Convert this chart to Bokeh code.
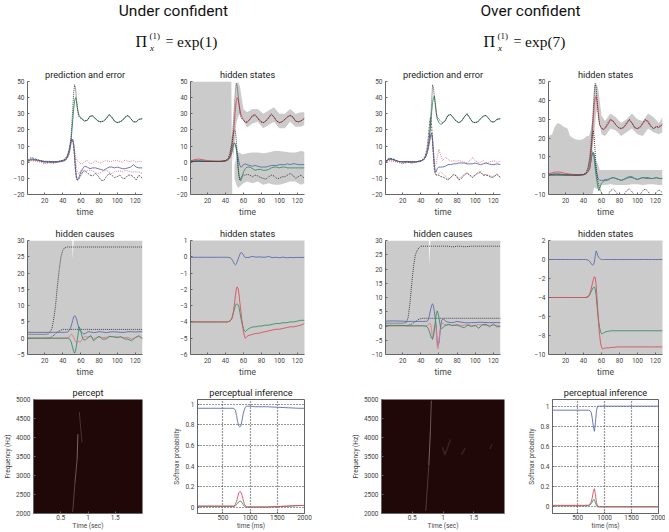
from bokeh.plotting import figure
from bokeh.layouts import column, row
from bokeh.models import Label, Range1d, FixedTicker
from bokeh.embed import file_html
from bokeh.resources import INLINE

NARROW = "Roboto"
SERIF = "Liberation Serif"
BLUE, GREEN, RED, PINK, BLACK, GRAY = "#5a6cb0", "#3a8f66", "#d9505f", "#e2788a", "#333333", "#cbcbcb"
SOFTBLACK = "#555555"
DARK = "#200708"

HEADINGS = ["Under confident", "Over confident"]
CONDITIONS = ["exp(1)", "exp(7)"]
TIME_TICKS = [20, 40, 60, 80, 100, 120]

T = [1, 5, 10, 15, 20, 25, 30, 35, 40, 43, 45, 47, 48, 49, 50, 51, 52, 53, 54, 55, 56, 57, 58, 60, 62,
     64, 67, 70, 73, 76, 79, 82, 85, 88, 91, 94, 97, 100, 103, 106, 109, 112, 115, 118, 121, 124, 128]

A_black_top = [.5, 1.5, 1, .8, .5, .5, .3, .5, 1, 2.5, 4, 7, 10, 15, 24, 33, 43, 48, 46, 40, 34, 30, 28, 27, 26.5,
               25.5, 26, 28.5, 29, 27, 25.5, 25, 25.5, 27, 29.5, 28, 25.5, 24.5, 25, 26, 28, 29, 27, 25, 25, 26.5, 27]
A_green = [.5, 1.5, 1.5, 1, .5, .5, .3, .5, 1, 1.5, 3, 6, 9, 13, 19, 26, 33, 38, 40, 38, 34, 31, 29, 27.5, 26.5,
           25.5, 26, 28.5, 28.5, 27, 25.5, 25, 25.5, 27, 29.5, 28, 25.5, 24.5, 25, 26, 28, 29, 27, 25, 25, 26.5, 27]
A_blue = [.8, 2, 1.5, .8, .3, .3, .2, .3, .8, 1.5, 3, 6, 9, 12, 14, 14, 11, 4, -4, -9, -11, -10.5, -9, -6, -4,
          -2.5, -3, -4, -3.5, -3.5, -4, -4.5, -5, -4, -3, -3, -3.5, -3, -3.5, -4, -4, -3.5, -3, -1.5, -3, -3.5, -3.5]
A_red_top = [.5, 1.5, 1, .5, -.5, 0, -.5, 0, .5, 1, 2.5, 5, 8, 12, 14, 14, 11, 7, 4, 2, 1, .5, 0, -1, -1,
             .5, 1, -1, -.5, 1, 0, -.5, .5, 1, .5, .5, 1, 1, .5, 0, 1.5, .5, .5, 1, 0, .5, .5]
A_red_low = [.2, 1, .5, 0, -1, -.5, -.5, 0, .5, 1, 2.5, 5, 8, 12, 14, 14, 11, 6, 1, -3, -6, -7, -7, -5, -5.5,
             -6, -5, -5, -5.5, -6.5, -7, -6.5, -5.5, -5, -6, -7, -6, -5.5, -5.5, -6, -5, -5.5, -6, -6, -6, -6, -7]
A_black_low = [1, 3, 2, 1, 0, 0, -.3, .3, .8, 2, 4, 8, 11, 14, 14, 13, 10, 3, -5, -10, -11, -11, -10, -8, -6,
               -5, -6.5, -8, -8.5, -7, -8.5, -11, -11.5, -9, -7, -8, -9.5, -9, -8, -10, -10, -8, -8, -9, -11, -8, -10]

B_red = [.8, 1.5, 2, 1.5, 1, .8, .6, .6, .8, 1.5, 3, 8, 12, 18, 25, 33, 38, 40, 39, 36, 33, 30, 28.5, 26, 24.5,
         24.5, 26.5, 28.5, 29, 27.5, 25.5, 24.5, 25.5, 27.5, 29.5, 28, 25.5, 24.5, 25, 26.5, 28, 29, 28, 25.5, 25, 25.5, 27]
B_black_top = [.5, .5, .5, .5, .5, .5, .5, .5, 1, 2.5, 6, 12, 18, 26, 35, 44, 49, 47, 42, 36, 31, 28, 27, 26, 25,
               25, 26.5, 29, 29.5, 27, 25, 24.5, 25.5, 27.5, 30, 28, 25.5, 24.5, 25, 26.5, 28, 29, 28, 25.5, 25, 25.5, 27.5]
B_black_low = [.5, .5, .5, .5, .5, .5, .5, .5, .8, 2, 4, 10, 15, 19, 20, 19, 14, 6, -3, -9, -11, -10, -9, -8, -8,
               -7.5, -8, -9, -8, -8.5, -9.5, -10, -10.5, -9, -8, -8.5, -10, -10, -9, -9, -8, -7, -8, -10, -9, -8, -10]
B_blue = [.8, .8, 1, .8, .6, .5, .5, .5, .8, 1.5, 3, 6, 9, 11, 12, 11, 9, 6, 3, 0, -2, -3, -3, -1.5, -1,
          -1.5, -2, -2.5, -2, -2.5, -3, -3, -3, -2.5, -2, -2, -2, -1.5, -1.5, -1.5, -1, -1.5, -1, -1, -1.5, -1.5, -1.5]
B_green = [.6, .6, .8, .6, .5, .5, .5, .5, .8, 1.5, 3, 6, 9, 11, 12, 11, 8, 3, -3, -8, -11, -11.5, -10, -6, -4,
           -3, -3, -4, -5, -4.5, -4.5, -5, -5, -4.5, -3.5, -3, -3, -3.5, -3, -3, -3.5, -3.5, -3.5, -3.5, -3.5, -3.5, -3.5]
B_wall_t = [1, 46.5, 47.5]
B_wall_up = [50, 50, -20]
B_wall_low = [-20, -20, -20]
B1_t = [48, 50, 52, 54, 56, 58, 60, 64, 70, 76, 82, 88, 94, 100, 106, 112, 118, 124, 128]
B1_up = [14, 30, 48, 50, 47, 40, 33, 31, 33, 33, 30, 32, 34, 30, 30, 33, 30, 31, 31]
B1_low = [0, 10, 24, 28, 30, 28, 26, 21.5, 24, 25, 21, 23, 25, 21, 21, 25, 22, 22, 23]
B2_t = [50, 52, 54, 56, 58, 60, 64, 70, 76, 82, 88, 94, 100, 106, 112, 118, 124, 128]
B2_up = [-2, 3, 6, 6, 5, 5, 5.5, 6, 6, 5.5, 6, 7, 7, 6.5, 6, 6, 7, 6.5]
B2_low = [-10, -14, -16, -15, -14, -13, -12, -13, -12, -14, -13, -14, -14, -13, -12, -12, -14, -13]

C_black_top = [.3, 2, 1.5, .5, .3, .5, .3, .3, .8, 1.5, 3, 6, 9, 13, 19, 28, 38, 48, 46, 40, 35, 31, 28, 26.5, 25.5,
               24.5, 25.5, 29, 29.5, 27.5, 25.5, 24.5, 25.5, 28, 30, 27.5, 25, 24.5, 25, 27, 28.5, 29, 27, 25, 25, 26.5, 27]
C_green = [.3, 2, 1.5, .5, .3, .5, .3, .3, .8, 1.5, 3, 6, 9, 13, 18, 25, 31, 37, 40, 41, 37, 31, 27, 24.5, 23.5,
           24, 26, 29, 29.5, 27.5, 25.5, 24.5, 25.5, 28, 30, 27.5, 25, 24.5, 25, 27, 28.5, 29, 27, 25, 25, 26.5, 27]
C_blue = [.3, 2, 1.5, .5, .2, .3, .2, .3, .8, 1.5, 3, 6, 8, 11, 14, 17, 18, 14, 6, -2, -6, -6, -4, -3, -3,
          -3, -2.5, -1.5, -1.5, -1, -1, -.5, -.5, -.5, -1, -1, -1, -.5, -1, -1.5, -1, -.5, -1, -1.5, -1.5, -1, -1.5]
C_red_top = [0, 1, .5, 0, -1, 0, -.5, 0, .5, 1.5, 3, 6, 8, 11, 14, 17, 18, 14, 6, 0, -2, -1, 2, 8, 4,
             1, 3, 2, .5, 1, .5, 1, .5, 0, -.5, 1, 3, 1, 0, 0, 1, -.5, 0, .5, 1, 0, .5]
C_red_low = [0, 1, .5, 0, -1, 0, -.5, 0, .5, 1.5, 3, 6, 8, 11, 14, 17, 18, 13, 5, -2, -7, -8, -8, -7, -6,
             -7, -8.5, -10, -9.5, -8, -8, -10, -9, -7.5, -7, -8, -9, -8, -7, -6.5, -8, -7.5, -8, -9, -8.5, -7.5, -9.5]
C_black_low = [.5, 2.5, 2, .5, 0, 0, -.3, .2, .8, 2, 4, 9, 14, 20, 26, 28, 22, 12, 3, -5, -7, -8, -8, -8, -9,
               -9, -10, -11, -9.5, -7.5, -8.5, -11, -10, -8, -6.5, -8, -9.5, -8, -6.5, -6, -8, -8, -8.5, -9.5, -9, -7.5, -9.5]

D_red = [1, 1.5, 2, 1.8, 1.2, .8, .6, .5, .6, 1, 2, 5, 9, 15, 22, 31, 38, 41, 42, 40, 36, 31, 27, 25, 24.5,
         25, 27, 29.5, 29, 27, 25.5, 25, 25.5, 27.5, 29.5, 28, 25.5, 25, 25.5, 27.5, 29.5, 29, 26.5, 25, 26, 25.5, 27]
D_black_top = [.3, .3, .3, .3, .3, .3, .3, .3, .6, 1.5, 4, 10, 15, 21, 28, 36, 44, 49, 47, 41, 34, 30, 27, 25.5, 24.5,
               25.5, 28, 30, 29, 27, 25.5, 25, 26, 28, 30, 28, 25.5, 25, 26, 28, 30, 28, 26, 25, 26, 26, 27.5]
D_black_low = [.3, .3, .3, .3, .3, .3, .3, .3, .6, 1.5, 4, 8, 12, 17, 22, 24, 20, 12, 5, 0, -3, -5, -7, -9, -10,
               -10.5, -10.5, -8, -7, -8.5, -10.5, -11, -10, -8, -7, -8.5, -10.5, -11, -10, -8, -7, -8.5, -10.5, -11, -9, -7.5, -9]
D_blue = [.8, .8, 1, .8, .5, .5, .3, .3, .5, 1, 2, 4, 7, 10, 12, 12.5, 11, 7, 3, 1, -1, -2, -2.5, -2.5, -2.5,
          -2, -2, -1.5, -1, -1.5, -2, -2.5, -2, -1.5, -1, -1, -1.5, -2, -1.5, -1, -1.5, -1.5, -1.5, -1.5, -1, -1.5, -1.5]
D_green = [.6, .6, .8, .6, .4, .4, .3, .3, .5, 1, 2, 4, 7, 10, 12, 12, 9, 4, 0, -3, -6, -8, -7, -4, -3,
           -2.5, -2.5, -1.5, -1, -1.5, -2, -2.5, -2, -1, -.5, -.5, -1.5, -2, -1.5, -1, -1, -1, -1.5, -1.5, -1, -1.5, -1.5]
D_wall_t = [1, 5, 8, 11, 14, 18, 22, 25, 30, 35, 40, 44, 47, 48]
D_wall_up = [21, 22, 26, 28, 27.5, 26, 25, 21, 19.5, 19, 19.5, 21, 21, 24]
D_wall_low = [-10, -10, -10, -10, -10, -10, -10, -10, -10, -10, -10, -10, -10, -10]
D1_t = [46, 48, 50, 52, 54, 56, 58, 60, 64, 70, 76, 82, 88, 94, 100, 106, 112, 118, 124, 128]
D1_up = [21, 24, 30, 48, 49, 47, 40, 32, 29, 33, 31, 28, 30, 33, 30, 29, 33, 31, 28, 31]
D1_low = [15, 15, 14, 22, 33, 36, 28, 22, 21, 25, 24, 21, 23, 25, 22, 21, 25, 23, 22, 23]
D2_up = [15, 15, 14, 10, 8, 6, 3, 3, 3, 3, 3, 3, 3, 3, 3, 3, 3, 3, 3, 3]
D2_low = [-10, -10, -10, -6, -7, -7, -6, -5, -5, -4.5, -5, -5, -5, -4.5, -4.5, -5, -4.5, -4.5, -5, -5]

E = [1, 10, 20, 24, 26, 28, 30, 32, 34, 36, 38, 40, 42, 45, 47, 48, 49, 50, 51, 52, 53, 54, 55, 56, 57,
     58, 59, 60, 61, 62, 63, 65, 68, 71, 74, 77, 80, 84, 88, 92, 96, 100, 104, 108, 112, 116, 120, 124, 128]

E_sig = [1.2, 1.2, 1.2, 1.3, 2, 3, 6, 10, 16, 21, 25, 27, 27.8, 28, 28, 28, 28, 28, 28, 28, 28, 28, 28, 28, 28,
         28, 28, 28, 28, 28, 28, 28, 28, 28, 28, 28, 28, 28, 28, 28, 28, 28, 28, 28, 28, 28, 28, 28, 28]
E_sig2 = [0, 0, 0, .1, .2, .4, .9, 1.4, 1.9, 2.2, 2.5, 2.7, 2.7, 2.7, 2.7, 2.7, 2.7, 2.7, 2.7, 2.7, 2.7, 2.7, 2.7, 2.7, 2.7,
          2.7, 2.7, 2.7, 2.7, 2.7, 2.7, 2.7, 2.7, 2.7, 2.7, 2.7, 2.7, 2.7, 2.7, 2.7, 2.7, 2.7, 2.7, 2.7, 2.7, 2.7, 2.7, 2.7, 2.7]
E_blue = [1.8, 1.8, 1.8, 1.8, 1.8, 1.8, 1.8, 1.8, 1.8, 1.8, 1.8, 1.8, 1.8, 1.9, 2.3, 2.8, 3.5, 4.5, 5.5, 6.5, 6.9, 6.7, 6, 5, 3.8,
          2.8, 2.3, 2, 1.8, 1.5, 1.3, 1.5, 2, 1.9, 1.7, 1.8, 2, 1.9, 1.7, 1.9, 2, 1.9, 1.8, 1.8, 2, 2, 1.9, 2, 2]
E_green = [0, 0, 0, 0, 0, 0, 0, 0, 0, 0, 0, 0, 0, 0, -.1, -.5, -1, -2, -3, -4, -4.6, -4, -2.5, -.5, 1.5,
           3.5, 3, 2, .8, 0, -.5, -.5, .2, .8, -.8, 0, .6, -.3, -.2, .6, .4, .2, .5, -.2, -.3, -.8, .2, .8, -.2]
E_red = [0, 0, 0, 0, 0, 0, 0, 0, 0, 0, 0, 0, 0, .1, .4, .8, 1.1, 1.2, .8, .2, -.5, -1, -1.2, -1.2, -1,
         -1, -1.2, -1, -.5, 0, .3, .5, .3, .6, -.2, .2, .4, .2, .3, .5, .5, .4, .3, .2, .3, -.3, .2, .5, 0]
E_notch_t = [1, 50.5, 51, 52, 128]
E_notch_up = [30, 30, 24.3, 30, 30]
E_notch_low = [-5, -5, -5, -5, -5]

F_sig = [1, 1, 1, 1.2, 3, 8, 15, 21, 25, 26.5, 27.5, 28, 28, 28, 28, 28, 28, 28, 28, 28, 28, 28, 28, 28, 28,
         28, 28, 28, 28, 28, 28, 28, 28, 28, 27.8, 27.8, 28, 28, 27.8, 27.9, 28, 28, 28, 28, 28, 28, 28, 28, 28]
F_sig2 = [.2, .2, .2, .2, .3, .4, .7, 1.1, 1.5, 2, 2.4, 2.6, 2.7, 2.7, 2.7, 2.7, 2.7, 2.7, 2.7, 2.7, 2.7, 2.7, 2.7, 2.7, 2.7,
          2.7, 2.7, 2.7, 2.7, 2.7, 2.7, 2.7, 2.7, 2.7, 2.7, 2.7, 2.7, 2.7, 2.7, 2.7, 2.7, 2.7, 2.7, 2.7, 2.7, 2.7, 2.7, 2.7, 2.7]
F_blue = [1.7, 1.8, 1.7, 1.6, 1.6, 1.6, 1.6, 1.6, 1.6, 1.6, 1.6, 1.6, 1.6, 1.6, 1.7, 2, 3, 4.5, 6, 7.3, 7.8, 7, 5, 2.5, 0,
          -5, -7, -6, -3, 0, 2, 2.5, 1.5, 1.3, 1.2, 1.3, 1.6, 1.4, 1.2, 1.1, 1.2, 1.2, 1.3, 1.3, 1.2, 1.2, 1.2, 1.2, 1.2]
F_green = [.2, .2, .2, .1, .1, .1, .1, .1, .1, .1, .1, .1, .1, 0, -.3, -.8, -1.5, -2.5, -3.5, -4.3, -4.5, -3.5, -1.5, 1.5, 4,
           5.3, 4.5, 3, 1, -.8, -1, -.3, .3, .6, .2, .2, .3, -.2, -.6, .3, -.2, .2, -.8, .5, .6, -.3, .7, -.3, -.2]
F_red = [0, 0, 0, 0, 0, 0, 0, 0, 0, 0, 0, 0, 0, 0, .2, .5, .8, 1, .3, -1.5, -4.8, -3, 0, .8, -1,
         -7, -8, -5, -2, 0, .8, .8, .3, .4, .2, .4, .5, .2, .3, .5, .2, .2, .5, .3, .2, .2, .3, .2, .1]
F_notch_t = [1, 49, 49.7, 50.5, 128]
F_notch_up = [30, 30, 21.3, 30, 30]
F_notch_low = [-10, -10, -10, -10, -10]

G_red = [-4, -4, -4, -4, -4, -4, -4, -4, -4, -4, -4, -4, -4, -3.95, -3.8, -3.6, -3.3, -2.9, -2.4, -2, -1.85, -1.95, -2.3, -2.8, -3.3,
         -3.8, -4.2, -4.6, -4.85, -5, -4.95, -4.85, -4.8, -4.75, -4.7, -4.7, -4.65, -4.6, -4.55, -4.5, -4.45, -4.45, -4.4, -4.35, -4.3, -4.3, -4.25, -4.2, -4.1]
G_green = [-4, -4, -4, -4, -4, -4, -4, -4, -4, -4, -4, -4, -4, -3.95, -3.8, -3.6, -3.4, -3.2, -3, -2.9, -2.9, -2.95, -3.1, -3.4, -3.7,
           -4, -4.2, -4.4, -4.55, -4.6, -4.55, -4.45, -4.35, -4.3, -4.3, -4.25, -4.25, -4.2, -4.2, -4.15, -4.1, -4.1, -4.05, -4.05, -4, -4, -3.95, -3.9, -3.9]
G_blue = [-.03, -.03, -.03, -.03, -.03, -.03, -.03, -.03, -.03, -.03, -.03, -.03, -.03, -.05, -.15, -.25, -.35, -.45, -.5, -.45, -.3, -.15, 0, .15, .25,
          .25, .2, .1, 0, -.05, -.03, -.05, 0, .02, -.03, 0, -.02, -.03, .02, -.05, -.03, -.06, -.02, -.06, -.04, -.05, -.04, -.04, -.04]

H_blue = [0, 0, 0, 0, 0, 0, 0, 0, 0, 0, 0, 0, 0, -.05, -.2, -.35, -.5, -.6, -.55, -.3, .3, .9, .7, .4, .2,
          .1, .05, 0, 0, 0, 0, 0, 0, 0, 0, 0, 0, 0, 0, 0, 0, 0, 0, 0, 0, 0, 0, 0, 0]
H_red = [-4, -4, -4, -4, -4, -4, -4, -4, -4, -4, -4, -4, -4, -3.95, -3.6, -3.3, -2.9, -2.5, -2.1, -1.8, -1.9, -2.6, -4, -5.5, -7,
         -8, -8.8, -9.2, -9.4, -9.4, -9.35, -9.3, -9.3, -9.25, -9.25, -9.2, -9.2, -9.2, -9.2, -9.2, -9.2, -9.2, -9.2, -9.2, -9.2, -9.2, -9.2, -9.2, -9.2]
H_green = [-4, -4, -4, -4, -4, -4, -4, -4, -4, -4, -4, -4, -4, -3.95, -3.7, -3.5, -3.3, -3.1, -2.95, -2.9, -3.1, -3.7, -4.8, -5.8, -6.6,
           -7.2, -7.6, -7.8, -7.8, -7.75, -7.7, -7.6, -7.55, -7.5, -7.5, -7.5, -7.5, -7.5, -7.5, -7.5, -7.5, -7.5, -7.5, -7.5, -7.5, -7.5, -7.5, -7.5, -7.5]

P_time = [.72, .76, .80, .815]
P_freq = [2045, 2800, 3420, 4090]
P_alpha = [.35, .45, .55]
P2_time = [.84, .89]
P2_freq = [4670, 3870]
Q_time = [.72, .77, .795, .81]
Q_freq = [2070, 3280, 4170, 4970]
Q_alpha = [.3, .55, .45]
Q_faint_time = [[.99, 1.03, 1.12], [1.30, 1.36], [1.76, 1.80]]
Q_faint_freq = [[3750, 3540, 3950], [3540, 3720], [3700, 3830]]

K_T = [32, 300, 600, 700, 730, 750, 770, 790, 810, 830, 850, 870, 890, 910, 930, 950, 1000, 1100, 1300, 1500, 1700, 1900, 2000]
K_blue = [.96, .96, .96, .96, .94, .89, .83, .79, .78, .79, .84, .90, .94, .97, .98, .98, .98, .975, .975, .97, .965, .96, .96]
K_red = [.015, .015, .015, .015, .03, .06, .10, .14, .155, .15, .12, .08, .04, .02, .01, .005, .005, .005, .005, .01, .015, .02, .02]
K_green = [.01, .01, .01, .01, .015, .03, .04, .055, .06, .06, .05, .03, .015, .01, .005, .005, .005, .005, .005, .008, .012, .018, .02]

L_T = [32, 300, 600, 700, 730, 750, 770, 790, 810, 830, 850, 870, 900, 1000, 1500, 2000]
L_blue = [.96, .96, .96, .96, .955, .94, .88, .8, .75, .84, .96, 1, 1, 1, 1, 1]
L_red = [.015, .015, .015, .017, .03, .05, .09, .15, .18, .12, .04, .01, 0, 0, 0, 0]
L_green = [.01, .01, .01, .012, .02, .03, .05, .07, .07, .04, .01, 0, 0, 0, 0, 0]


def panel(box, yr, yticks, title=None, xlabel=None, ylabel=None, xr=(1, 128), xticks=TIME_TICKS,
          xfmt=None, bg=None, boxed=False):
    left, top, w, h, right, bottom = box
    p = figure(width=left + w + right, height=top + h + bottom, output_backend="svg", toolbar_location=None,
               x_range=Range1d(*xr), y_range=Range1d(*yr), min_border_left=left, min_border_right=right,
               min_border_top=top, min_border_bottom=bottom, title=title or "")
    p.title.align = "center"
    p.title.text_font = NARROW
    p.title.text_font_size = "9.2px"
    p.title.text_font_style = "normal"
    p.title.text_color = "#222222"
    p.title.standoff = 4
    p.grid.visible = False
    p.outline_line_color = "#666666" if boxed else None
    if bg:
        p.background_fill_color = bg
    for ax, ticks in ((p.xaxis[0], xticks), (p.yaxis[0], yticks)):
        ax.ticker = FixedTicker(ticks=ticks)
        ax.minor_tick_line_color = None
        ax.major_tick_in = 2
        ax.major_tick_out = 0
        ax.axis_line_color = "#666666"
        ax.major_tick_line_color = "#666666"
        ax.major_label_text_font = NARROW
        ax.major_label_text_font_size = "6.5px"
        ax.major_label_text_color = "#444444"
        ax.major_label_standoff = 3
        ax.axis_label_text_font = NARROW
        ax.axis_label_text_font_style = "normal"
        ax.axis_label_standoff = 1
    if xfmt:
        p.xaxis[0].major_label_overrides = xfmt
    if xlabel:
        p.xaxis[0].axis_label = xlabel
        p.xaxis[0].axis_label_text_font_size = "8.5px" if xlabel == "time" else "6.5px"
        if xlabel != "time":
            p.xaxis[0].major_label_standoff = 1
            p.xaxis[0].axis_label_standoff = -1
    if ylabel:
        p.yaxis[0].axis_label = ylabel
        p.yaxis[0].axis_label_text_font_size = "6.5px"
    return p


def draw(p, x, ys):
    for y, color, dash in ys:
        p.line(x, y, line_color=color, line_width=0.9, line_dash=dash)


DOT = "1 1"
DASH = "2 1"

# top heading
head = figure(width=669, height=58, x_range=Range1d(0, 669), y_range=Range1d(58, 0), output_backend="svg",
              toolbar_location=None, min_border=0, outline_line_color=None)
head.axis.visible = False
head.grid.visible = False
for cx, px, name, cond in ((173, 135, HEADINGS[0], CONDITIONS[0]), (530, 483, HEADINGS[1], CONDITIONS[1])):
    head.add_layout(Label(x=cx, y=10, text=name, text_font=NARROW, text_font_size="15.5px", text_align="center",
                          text_baseline="middle", text_color="#111111"))
    for dx, y, txt, size, style in ((0, 41, "\u03a0", "16px", "normal"), (14, 35, "(1)", "9px", "normal"),
                                    (14.5, 47, "x", "9px", "italic"), (30, 41, "=", "14px", "normal"),
                                    (41.5, 41, cond, "15.5px", "normal")):
        head.add_layout(Label(x=px + dx, y=y, text=txt, text_font=SERIF, text_font_size=size, text_font_style=style,
                              text_baseline="middle", text_color="#111111"))

# row 1
p1 = panel((27, 22, 115, 114, 28, 28), (-20, 50), [-20, -10, 0, 10, 20, 30, 40, 50], "prediction and error", "time")
draw(p1, T, [(A_green, GREEN, "solid"), (A_black_top, BLACK, DOT), (A_red_top, PINK, DOT), (A_red_low, PINK, DOT),
             (A_blue, BLUE, "solid"), (A_black_low, SOFTBLACK, DASH)])

p2 = panel((20, 22, 114, 114, 31, 28), (-20, 50), [-20, -10, 0, 10, 20, 30, 40, 50], "hidden states", "time")
p2.varea(B_wall_t, B_wall_low, B_wall_up, fill_color=GRAY)
p2.varea(B1_t, B1_low, B1_up, fill_color=GRAY)
p2.varea(B2_t, B2_low, B2_up, fill_color=GRAY)
draw(p2, T, [(B_blue, BLUE, "solid"), (B_green, GREEN, "solid"), (B_red, RED, "solid"),
             (B_black_top, BLACK, DOT), (B_black_low, BLACK, DOT)])

p3 = panel((50, 23, 115, 114, 25, 27), (-20, 50), [-20, -10, 0, 10, 20, 30, 40, 50], "prediction and error", "time")
draw(p3, T, [(C_green, GREEN, "solid"), (C_black_top, BLACK, DOT), (C_red_top, PINK, DOT), (C_red_low, PINK, DOT),
             (C_blue, BLUE, "solid"), (C_black_low, SOFTBLACK, DASH)])

p4 = panel((23, 23, 114, 115, 7, 26), (-10, 50), [-10, 0, 10, 20, 30, 40, 50], "hidden states", "time")
p4.varea(D_wall_t, D_wall_low, D_wall_up, fill_color=GRAY)
p4.varea(D1_t, D1_low, D1_up, fill_color=GRAY)
p4.varea(D1_t, D2_low, D2_up, fill_color=GRAY)
draw(p4, T, [(D_blue, BLUE, "solid"), (D_green, GREEN, "solid"), (D_red, RED, "solid"),
             (D_black_top, BLACK, DOT), (D_black_low, BLACK, DOT)])

# row 2
q1 = panel((27, 17, 115, 115, 28, 26), (-5, 30), [-5, 0, 5, 10, 15, 20, 25, 30], "hidden causes", "time")
q1.varea(E_notch_t, E_notch_low, E_notch_up, fill_color=GRAY)
draw(q1, E, [(E_sig, BLACK, DOT), (E_sig2, BLACK, DOT), (E_blue, BLUE, "solid"), (E_red, PINK, "solid"),
             (E_green, GREEN, "solid")])

q2 = panel((20, 17, 114, 115, 31, 26), (-6, 1), [-6, -5, -4, -3, -2, -1, 0, 1], "hidden states", "time", bg=GRAY)
draw(q2, E, [(G_blue, BLUE, "solid"), (G_green, GREEN, "solid"), (G_red, RED, "solid")])

q3 = panel((50, 18, 115, 115, 25, 25), (-10, 30), [-10, -5, 0, 5, 10, 15, 20, 25, 30], "hidden causes", "time")
q3.varea(F_notch_t, F_notch_low, F_notch_up, fill_color=GRAY)
draw(q3, E, [(F_sig, BLACK, DOT), (F_sig2, BLACK, DOT), (F_blue, BLUE, "solid"), (F_red, PINK, "solid"),
             (F_green, GREEN, "solid")])

q4 = panel((23, 18, 114, 115, 7, 25), (-10, 2), [-10, -8, -6, -4, -2, 0, 2], "hidden states", "time", bg=GRAY)
draw(q4, E, [(H_blue, BLUE, "solid"), (H_green, GREEN, "solid"), (H_red, RED, "solid")])

# row 3
FREQ = [2000, 2500, 3000, 3500, 4000, 4500, 5000]
SOFT = [0, .2, .4, .6, .8, 1]
SEC = {0.5: "0.5", 1: "1", 1.5: "1.5"}
S1 = "#f4dcd8"

r1 = panel((27, 18, 115, 115, 28, 19), (2000, 5000), FREQ, "percept", "Time (sec)", "Frequency (Hz)",
           xr=(0, 2), xticks=[.5, 1, 1.5], xfmt=SEC, bg=DARK)
r1.multi_line([P_time[i:i + 2] for i in range(3)], [P_freq[i:i + 2] for i in range(3)], line_color=S1,
              line_alpha=P_alpha, line_width=0.8)
r1.line(P2_time, P2_freq, line_color=S1, line_alpha=.25, line_width=0.8)

r2 = panel((20, 18, 114, 115, 31, 19), (-.058, 1.045), SOFT, "perceptual inference", "time (ms)", "Softmax probability",
           xr=(32, 2000), xticks=[500, 1000, 1500, 2000], boxed=True)
r2.grid.visible = True
r2.grid.grid_line_color = "#333333"
r2.grid.grid_line_dash = "1 2"
r2.grid.grid_line_width = 1.2
draw(r2, K_T, [(K_blue, BLUE, "solid"), (K_green, GREEN, "solid"), (K_red, RED, "solid")])

r3 = panel((46, 19, 123, 114, 21, 19), (2000, 5000), FREQ, None, "Time (sec)", "Frequency (Hz)",
           xr=(0, 2), xticks=[.5, 1, 1.5], xfmt=SEC, bg=DARK)
r3.multi_line([Q_time[i:i + 2] for i in range(3)], [Q_freq[i:i + 2] for i in range(3)], line_color=S1,
              line_alpha=Q_alpha, line_width=0.8)
r3.multi_line(Q_faint_time, Q_faint_freq, line_color=S1, line_alpha=.12, line_width=1.5)

r4 = panel((19, 19, 114, 115, 7, 18), (-.066, 1.066), SOFT, "perceptual inference", "time (ms)", "Softmax probability",
           xr=(32, 2000), xticks=[500, 1000, 1500, 2000], boxed=True)
r4.grid.visible = True
r4.grid.grid_line_color = "#333333"
r4.grid.grid_line_dash = "1 2"
r4.grid.grid_line_width = 1.2
draw(r4, L_T, [(L_blue, BLUE, "solid"), (L_green, GREEN, "solid"), (L_red, RED, "solid")])

layout = column(head, row(p1, p2, p3, p4), row(q1, q2, q3, q4), row(r1, r2, r3, r4), spacing=0)
open("out.html", "w").write(file_html(layout, INLINE))
